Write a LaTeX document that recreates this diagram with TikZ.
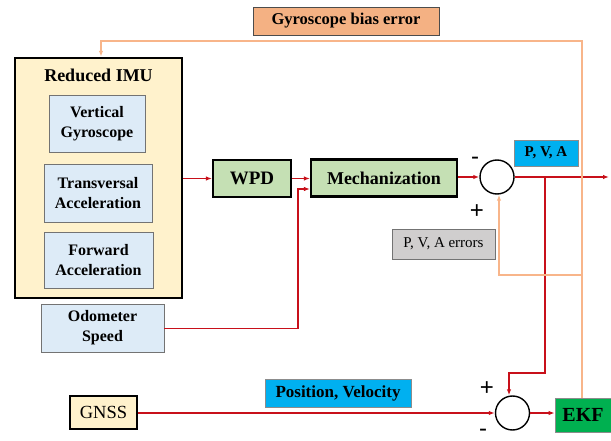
\documentclass[tikz,border=0pt]{standalone}
\usepackage{fontspec}
\setmainfont{Liberation Serif}
\newfontfamily\signfont{Liberation Sans}
\usetikzlibrary{arrows.meta,calc}
\definecolor{imuyellow}{HTML}{FFF2CC}
\definecolor{sensorblue}{HTML}{DDEBF7}
\definecolor{procgreen}{HTML}{C5E0B4}
\definecolor{ekfgreen}{HTML}{00B050}
\definecolor{tagcyan}{HTML}{00B0F0}
\definecolor{biasorange}{HTML}{F4B183}
\definecolor{fbline}{HTML}{F8B58A}
\definecolor{errgray}{HTML}{D0CECE}
\definecolor{sigred}{HTML}{C8101A}
\tikzset{
  box/.style={rectangle, inner sep=0pt, align=center, font=\bfseries},
  sensor/.style={box, fill=sensorblue, draw=black!55, line width=0.8pt, font=\bfseries\fontsize{16}{20}\selectfont},
  proc/.style={box, fill=procgreen, draw=black, line width=2.2pt},
  tag/.style={box, fill=tagcyan, draw=black!45, line width=0.6pt},
  sumnode/.style={circle, draw=black, line width=1.4pt, minimum size=34pt, inner sep=0pt},
  sig/.style={draw=sigred, line width=1.3pt, -{Latex[length=6pt,width=4.5pt]}},
  fb/.style={draw=fbline, line width=1.3pt, -{Latex[length=6pt,width=4.5pt]}},
  sign/.style={font=\signfont\fontsize{24}{24}\selectfont, inner sep=0pt}
}
\begin{document}
\begin{tikzpicture}[x=1pt,y=-1pt]
\useasboundingbox (0,0) rectangle (611,441);

% reduced IMU with its sensors
\node[box, fill=imuyellow, draw=black, line width=2.4pt, minimum width=167pt, minimum height=240pt] (imu) at (98.5,178) {};
\node[box, font=\bfseries\fontsize{18}{20}\selectfont] (imutitle) at (98.5,75) {Reduced IMU};
\node[sensor, minimum width=96pt, minimum height=57pt] (vg) at (97,123.5) {Vertical\\Gyroscope};
\node[sensor, minimum width=108pt, minimum height=58pt] (ta) at (98,193) {Transversal\\Acceleration};
\node[sensor, minimum width=109pt, minimum height=56pt] (fa) at (98.5,260) {Forward\\Acceleration};
\node[sensor, minimum width=123pt, minimum height=48pt] (odo) at (102.5,328) {Odometer\\Speed};

% GNSS
\node[box, fill=imuyellow, draw=black, line width=2pt, minimum width=67pt, minimum height=33pt, font=\fontsize{18.5}{20}\selectfont] (gnss) at (103.5,412.5) {GNSS};

% processing chain
\node[proc, minimum width=78pt, minimum height=37pt, font=\bfseries\fontsize{19}{20}\selectfont] (wpd) at (252,178.5) {WPD};
\node[proc, minimum width=146pt, minimum height=37pt, font=\bfseries\fontsize{18}{20}\selectfont] (mech) at (384,178) {Mechanization};
\node[sumnode] (sum1) at (497,177) {};
\node[sumnode] (sum2) at (512.5,413) {};
\node[box, fill=ekfgreen, draw=black!45, line width=0.8pt, minimum width=56pt, minimum height=34pt, font=\bfseries\fontsize{20}{20}\selectfont] (ekf) at (583,415) {EKF};

% labels
\node[box, fill=biasorange, draw=black!70, line width=0.9pt, minimum width=186pt, minimum height=28pt, font=\bfseries\fontsize{16.5}{20}\selectfont] (bias) at (346,21) {Gyroscope bias error};
\node[tag, minimum width=64pt, minimum height=26pt, font=\bfseries\fontsize{15}{18}\selectfont] (pva) at (546,153) {P, V, A};
\node[tag, minimum width=146pt, minimum height=28pt, font=\bfseries\fontsize{17}{20}\selectfont] (posvel) at (338,393) {Position, Velocity};
\node[box, fill=errgray, draw=black!55, line width=0.8pt, minimum width=103pt, minimum height=30pt, font=\fontsize{15}{18}\selectfont] (err) at (443.5,244) {P, V, A errors};

% summation signs
\node[sign] (m1) at (475,161) {-};
\node[sign] (p1) at (477,212) {+};
\node[sign] (p2) at (487,389) {+};
\node[sign] (m2) at (483,433) {-};

% signal paths
\coordinate (odoturn) at (298,328.7);
\coordinate (mechin) at (298,189);
\coordinate (out) at (609,177);
\coordinate (tap) at (545,177);
\coordinate (tapdown) at (545,373);
\coordinate (fbtop) at (582,41);
\coordinate (fbimu) at (101,41);
\coordinate (fbmid) at (582,275);
\coordinate (fbsum) at (499,275);

\draw[sig] (imu.east |- wpd.west) -- (wpd.west);
\draw[sig] (wpd.east) -- (wpd.east -| mech.west);
\draw[sig] (odo.east |- odoturn) -- (odoturn) -- (mechin) -- (mechin -| mech.west);
\draw[sig] (mech.east |- sum1.west) -- (sum1.west);
\draw[sig] (sum1.east) -- (out);
\draw[sig] (tap) -- (tapdown) -| ([xshift=-3.5pt]sum2.north);
\draw[sig] (gnss.east |- sum2.west) -- (sum2.west);
\draw[sig] (sum2.east) -- (sum2.east -| ekf.west);

% feedback paths
\draw[fb] (ekf.north -| fbtop) -- (fbtop) -- (fbimu) -- (fbimu |- imu.north);
\draw[fb] (fbmid) -- (fbsum) -- (fbsum |- sum1.south);
\end{tikzpicture}
\end{document}
